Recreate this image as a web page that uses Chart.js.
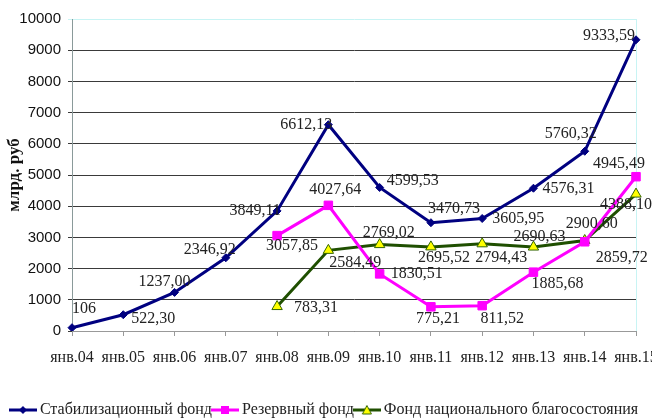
<!DOCTYPE html>
<html>
<head>
<meta charset="utf-8">
<script src="https://cdn.jsdelivr.net/npm/chart.js@4/dist/chart.umd.min.js"></script>
<style>
  html, body { margin: 0; padding: 0; background: #fff; }
  #c { display: block; }
</style>
</head>
<body>
<canvas id="c" width="652" height="419"></canvas>
<script>
// data
const months = ['янв.04','янв.05','янв.06','янв.07','янв.08','янв.09','янв.10','янв.11','янв.12','янв.13','янв.14','янв.15'];
const stabFund = [106, 522.30, 1237.00, 2346.92, 3849.11, 6612.13, 4599.53, 3470.73, 3605.95, 4576.31, 5760.32, 9333.59];
const reserveFund = [null, null, null, null, 3057.85, 4027.64, 1830.51, 775.21, 811.52, 1885.68, 2859.72, 4945.49];
const welfareFund = [null, null, null, null, 783.31, 2584.49, 2769.02, 2695.52, 2794.43, 2690.63, 2900.60, 4388.10];
const yTicks = [0, 1000, 2000, 3000, 4000, 5000, 6000, 7000, 8000, 9000, 10000];

// where each value label sits relative to its point (dx, dy of text centre)
const stabOffsets = [[12,-19],[30,4],[-10,-11],[-16,-8],[-22,0],[-22,0],[33,-7],[23,-14],[36,0],[35,1],[-14,-17],[-27,-4]];
const reserveOffsets = [null,null,null,null,[15,10],[7,-16],[37,0],[7,12],[20,13],[24,12],[37,16],[-17,-13]];
const welfareOffsets = [null,null,null,null,[39,1],[27,12],[9,-12],[13,11],[19,14],[6,-10],[7,-17],[-10,11]];

function fmt(v) {
  if (Number.isInteger(v) && v < 1000) return String(v);
  return v.toFixed(2).replace('.', ',');
}

// legend icon: short line with the marker in the middle
function makeIcon(color, drawMarker) {
  const cv = document.createElement('canvas');
  cv.width = 28; cv.height = 12;
  const g = cv.getContext('2d');
  g.strokeStyle = color; g.lineWidth = 3;
  g.beginPath(); g.moveTo(0, 6); g.lineTo(28, 6); g.stroke();
  drawMarker(g);
  return cv;
}
const icons = [
  makeIcon('#000080', g => { g.fillStyle = '#000080'; g.beginPath(); g.moveTo(14,2); g.lineTo(18,6); g.lineTo(14,10); g.lineTo(10,6); g.closePath(); g.fill(); }),
  makeIcon('#ff00ff', g => { g.fillStyle = '#ff00ff'; g.fillRect(10, 2, 8, 8); }),
  makeIcon('#1f4f00', g => { g.fillStyle = '#ffff00'; g.strokeStyle = '#336600'; g.lineWidth = 1; g.beginPath(); g.moveTo(14,1.5); g.lineTo(18.5,10); g.lineTo(9.5,10); g.closePath(); g.fill(); g.stroke(); })
];

const labelPlugin = {
  id: 'valueLabels',
  afterDatasetsDraw(chart) {
    const ctx = chart.ctx;
    const offsets = [stabOffsets, reserveOffsets, welfareOffsets];
    ctx.save();
    ctx.font = '16px "Liberation Serif", "Times New Roman", serif';
    ctx.fillStyle = '#222';
    ctx.textAlign = 'center';
    ctx.textBaseline = 'middle';
    chart.data.datasets.forEach((ds, i) => {
      const meta = chart.getDatasetMeta(i);
      meta.data.forEach((pt, j) => {
        const v = ds.data[j];
        if (v == null) return;
        const o = offsets[i][j];
        ctx.fillText(fmt(v), pt.x + o[0], pt.y + o[1]);
      });
    });
    ctx.restore();
  }
};

const framePlugin = {
  id: 'frame',
  afterLayout(chart) {
    // push the legend a little lower, as in the picture
    chart.legend.top += 9;
    chart.legend.bottom += 9;
  },
  beforeDatasetsDraw(chart) {
    const a = chart.chartArea, ctx = chart.ctx;
    ctx.save();
    ctx.strokeStyle = '#c8f4f4';
    ctx.lineWidth = 1;
    ctx.beginPath();
    ctx.moveTo(a.right + 0.5, a.top);
    ctx.lineTo(a.right + 0.5, a.bottom);
    ctx.stroke();
    ctx.restore();
  }
};

new Chart(document.getElementById('c'), {
  type: 'line',
  data: {
    labels: months,
    datasets: [
      {
        label: 'Стабилизационный фонд',
        data: stabFund,
        borderColor: '#000080', backgroundColor: '#000080',
        borderWidth: 3, pointStyle: 'rectRot', pointRadius: 4,
        pointBackgroundColor: '#000080', pointBorderColor: '#000080', pointBorderWidth: 1
      },
      {
        label: 'Резервный фонд',
        data: reserveFund,
        borderColor: '#ff00ff', backgroundColor: '#ff00ff',
        borderWidth: 3, pointStyle: 'rect', pointRadius: 6,
        pointBackgroundColor: '#ff00ff', pointBorderColor: '#ff00ff', pointBorderWidth: 1
      },
      {
        label: 'Фонд национального благосостояния',
        data: welfareFund,
        borderColor: '#1f4f00', backgroundColor: '#ffff00',
        borderWidth: 3, pointStyle: 'triangle', pointRadius: 6,
        pointBackgroundColor: '#ffff00', pointBorderColor: '#336600', pointBorderWidth: 1
      }
    ]
  },
  options: {
    responsive: false,
    animation: false,
    devicePixelRatio: 1,
    layout: { padding: { top: 19, right: 0, left: 0, bottom: 0 } },
    plugins: {
      tooltip: { enabled: false },
      legend: {
        position: 'bottom',
        labels: {
          usePointStyle: true,
          pointStyleWidth: 18,
          boxHeight: 12,
          padding: 4,
          color: '#222',
          font: { family: '"Liberation Serif", "Times New Roman", serif', size: 16 },
          generateLabels(chart) {
            const items = Chart.defaults.plugins.legend.labels.generateLabels(chart);
            items.forEach((it, i) => { it.pointStyle = icons[i]; });
            return items;
          }
        }
      }
    },
    scales: {
      x: {
        offset: false,
        grid: { display: true, drawOnChartArea: false, tickLength: 5, color: '#999' },
        border: { color: '#999', width: 1 },
        ticks: {
          autoSkip: false, maxRotation: 0, padding: 12, color: '#222',
          font: { family: '"Liberation Serif", "Times New Roman", serif', size: 16 }
        },
        afterFit(scale) { scale.height = 58; scale.paddingLeft = 0; scale.paddingRight = 16; }
      },
      y: {
        min: 0, max: 10000,
        afterBuildTicks(scale) { scale.ticks = yTicks.map(v => ({ value: v })); },
        grid: {
          tickLength: 4,
          color: ctx => ctx.tick && ctx.tick.value === 10000 ? '#c8f4f4' : '#3a3a3a'
        },
        border: { color: '#8a9a9a', width: 1 },
        ticks: {
          padding: 7, color: '#111',
          font: { family: '"Liberation Sans", Arial, sans-serif', size: 15 },
          callback: v => String(v)
        },
        title: {
          display: true, text: 'млрд. руб', color: '#111',
          padding: { top: 4, bottom: 0 },
          font: { family: '"Liberation Serif", "Times New Roman", serif', size: 17, weight: 'bold' }
        },
        afterFit(scale) { scale.width = 72; }
      }
    }
  },
  plugins: [framePlugin, labelPlugin]
});
</script>
</body>
</html>
